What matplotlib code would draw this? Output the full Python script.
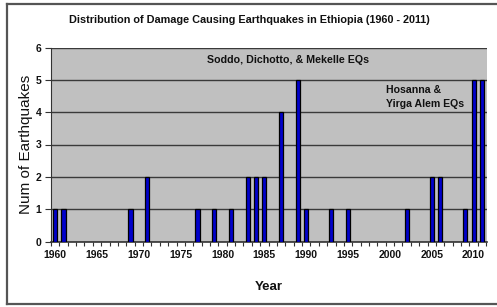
import matplotlib
matplotlib.use("Agg")
import matplotlib.pyplot as plt
from matplotlib.lines import Line2D
from matplotlib.ticker import FixedLocator

plt.rcParams['font.family'] = ['Liberation Sans', 'DejaVu Sans']

years = [1960, 1961, 1969, 1971, 1977, 1979, 1981, 1983, 1984, 1985, 1987,
         1989, 1990, 1993, 1995, 2002, 2005, 2006, 2009, 2010, 2011]
counts = [1, 1, 1, 2, 1, 1, 1, 2, 2, 2, 4, 5, 1, 1, 1, 1, 2, 2, 1, 5, 5]
year_ticks = [1960, 1965, 1970, 1975, 1980, 1985, 1990, 1995, 2000, 2005, 2010]
y_ticks = [0, 1, 2, 3, 4, 5, 6]

title = "Distribution of Damage Causing Earthquakes in Ethiopia (1960 - 2011)"
note1 = "Soddo, Dichotto, & Mekelle EQs"
note2 = "Hosanna &\nYirga Alem EQs"

W, H = 497, 307
fig = plt.figure(figsize=(W / 100, H / 100), dpi=100)
fig.patch.set_facecolor('white')

# outer frame (left, top, bottom edges)
fx0, fy_top, fy_bot = 7 / W, 1 - 4 / H, 1 - 304 / H
frame_kw = dict(color='#555555', lw=1.6, transform=fig.transFigure)
fig.add_artist(Line2D([fx0, fx0], [fy_bot, fy_top], **frame_kw))
fig.add_artist(Line2D([fx0, 1.0], [fy_top, fy_top], **frame_kw))
fig.add_artist(Line2D([fx0, 1.0], [fy_bot, fy_bot], **frame_kw))

left, right, top, bottom = 51, 487, 47.5, 241.5
ax = fig.add_axes([left / W, 1 - bottom / H, (right - left) / W, (bottom - top) / H])
ax.set_facecolor('#C0C0C0')

ax.bar(years, counts, width=0.5, color='#0000CC', edgecolor='black', linewidth=0.9, zorder=3)

ax.set_xlim(1959.5, 2011.6)
ax.set_ylim(0, 6)
ax.set_yticks(y_ticks)
ax.set_xticks(year_ticks)
ax.xaxis.set_minor_locator(FixedLocator([y + 0.5 for y in range(1959, 2012)]))
ax.tick_params(axis='x', which='major', length=0, pad=6, labelsize=7.5)
ax.tick_params(axis='x', which='minor', length=3, width=0.8, color='#333333', direction='out')
ax.tick_params(axis='y', length=4, width=0.8, color='#333333', pad=3, labelsize=7.5)
for lab in ax.get_xticklabels() + ax.get_yticklabels():
    lab.set_fontweight('bold')
    lab.set_color('#111111')

ax.yaxis.grid(True, color='#3a3a3a', linewidth=1.0, zorder=1)
ax.set_axisbelow(True)
for s in ['top', 'right']:
    ax.spines[s].set_visible(False)
ax.spines['left'].set_color('#333333')
ax.spines['bottom'].set_color('#333333')
ax.spines['bottom'].set_linewidth(1.2)

ax.set_ylabel("Num of Earthquakes", fontsize=11, color='#111111', labelpad=2)
ax.set_xlabel("Year", fontsize=9.5, fontweight='bold', color='#111111', labelpad=15)

fig.text(249 / W, 1 - 20 / H, title, ha='center', va='center', fontsize=7.8,
         fontweight='bold', color='#111111')

ax.text(1987.8, 5.62, note1, ha='center', va='center', fontsize=7.7,
        fontweight='bold', color='#111111', zorder=4)
ax.text(1999.5, 4.47, note2, ha='left', va='center', fontsize=7.6,
        fontweight='bold', color='#111111', linespacing=1.5, zorder=4)

fig.savefig("out.png", dpi=100)
